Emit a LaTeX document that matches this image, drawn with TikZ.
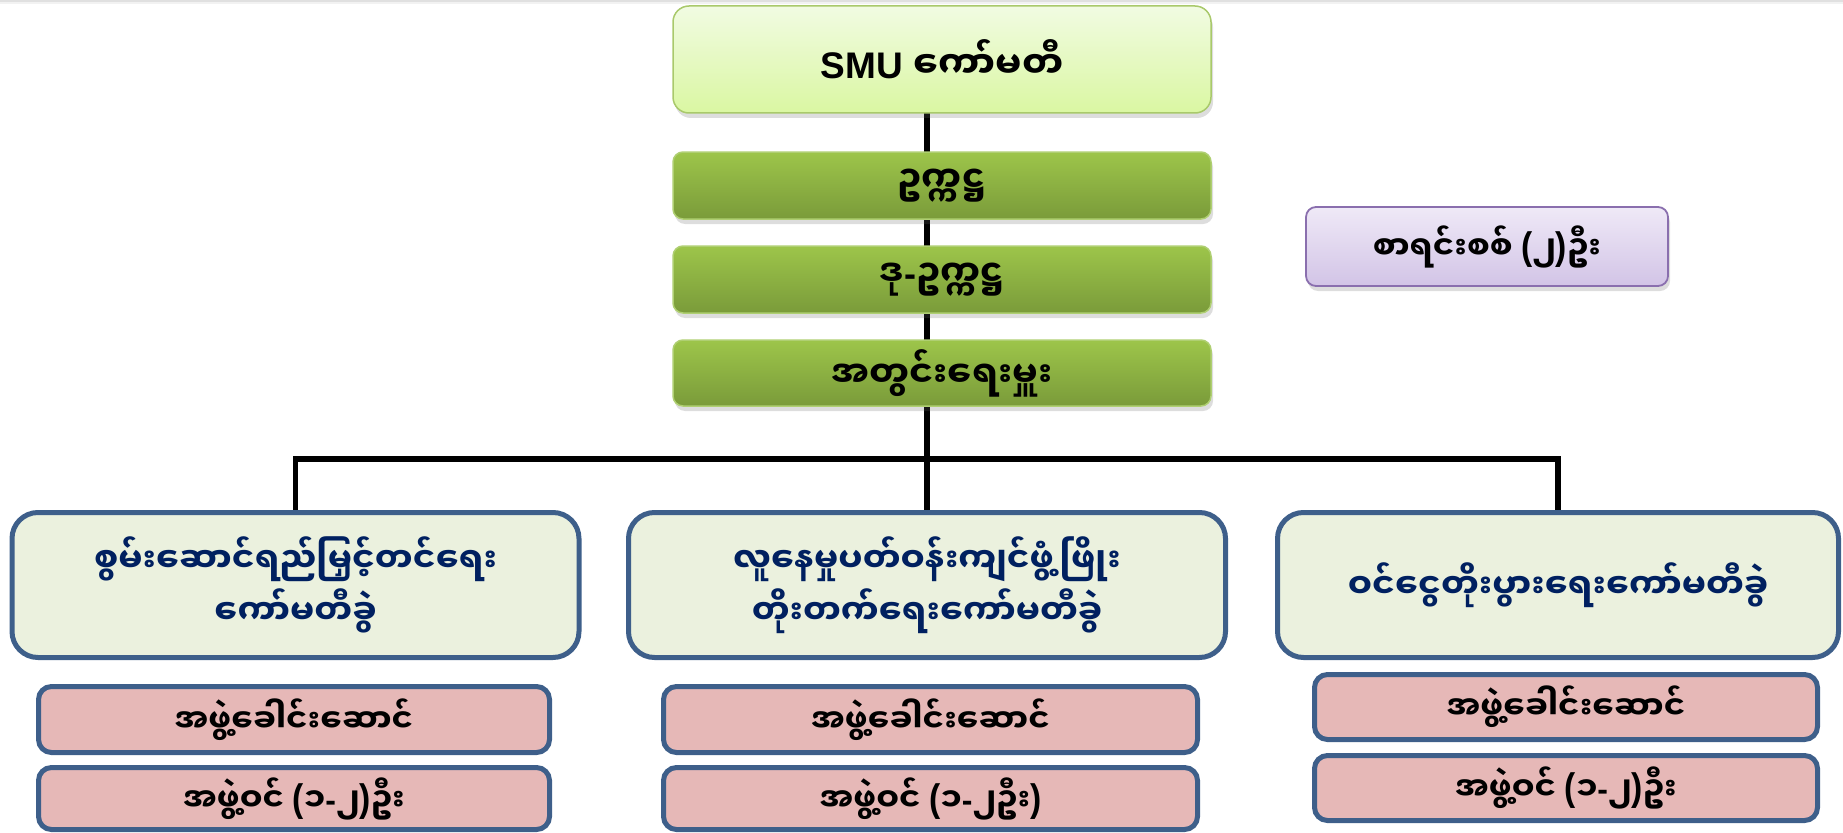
\documentclass[tikz,border=0pt]{standalone}
\usepackage{fontspec}
\setmainfont{Liberation Sans}
\newfontfamily\myan[Script=Myanmar]{Noto Sans Myanmar UI}
\newfontfamily\latn{Liberation Sans}
\newcommand\lp{{\latn\scalebox{1.05}[1.2]{(}}}
\newcommand\rp{{\latn\scalebox{1.05}[1.2]{)}}}
\newcommand\hy{{\latn-}}
\usetikzlibrary{shadows,backgrounds}
\definecolor{smutop}{HTML}{F1FBE2}
\definecolor{smubot}{HTML}{DAF7A2}
\definecolor{smuline}{HTML}{A9C96B}
\definecolor{grtop}{HTML}{9DC54A}
\definecolor{grbot}{HTML}{7A9B3A}
\definecolor{grline}{HTML}{AFCF72}
\definecolor{putop}{HTML}{EFE9F7}
\definecolor{pubot}{HTML}{D2C4E6}
\definecolor{puline}{HTML}{8A6FAE}
\definecolor{cmfill}{HTML}{EBF1DE}
\definecolor{bxline}{HTML}{3E5F8A}
\definecolor{cmtext}{HTML}{002060}
\definecolor{pkfill}{HTML}{E6B8B7}
\tikzset{
  base/.style={inner sep=0pt, outer sep=0pt, align=center, font=\myan\bfseries},
  shad/.style={drop shadow={shadow xshift=2pt, shadow yshift=-5pt, opacity=0.22, fill=black!60}},
  smubox/.style={base, shad, draw=smuline, line width=1.5pt, rounded corners=16pt,
    top color=smutop, bottom color=smubot, minimum width=538pt, minimum height=107pt, font=\bfseries\fontsize{37}{40}\selectfont},
  grbox/.style={base, shad, draw=grline, line width=1.5pt, rounded corners=10pt,
    top color=grtop, bottom color=grbot, minimum width=538pt, font=\myan\bfseries\fontsize{36}{40}\selectfont},
  pubox/.style={base, shad, draw=puline, line width=1.8pt, rounded corners=10pt,
    top color=putop, bottom color=pubot, minimum width=362pt, minimum height=79pt, font=\myan\bfseries\fontsize{32}{38}\selectfont},
  cmbox/.style={base, draw=bxline, line width=5pt, rounded corners=26pt, fill=cmfill,
    minimum height=145pt, text=cmtext, font=\myan\bfseries\fontsize{34}{52}\selectfont},
  pkbox/.style={base, draw=bxline, line width=5pt, rounded corners=13pt, fill=pkfill,
    font=\myan\bfseries\fontsize{32}{38}\selectfont},
  conn/.style={line width=5.5pt, black}
}
\begin{document}
\begin{tikzpicture}[x=1pt,y=-1pt]
\useasboundingbox (0,0) rectangle (1843,832);
\fill[black!12] (0,0) rectangle (1843,2);
\fill[black!5] (0,2) rectangle (1843,4);
% top chain
\node[smubox] (smu) at (942,59.5) {SMU {\myan ကော်မတီ}};
\node[grbox, minimum height=67pt] (chair) at (942,185.5) {ဥက္ကဋ္ဌ};
\node[grbox, minimum height=67pt] (vice) at (942,279.5) {ဒု\hy ဥက္ကဋ္ဌ};
\node[grbox, minimum height=66pt] (sec) at (942,373) {အတွင်းရေးမှူး};
\node[pubox] (aud) at (1487,246.5) {စာရင်းစစ် \lp ၂\rp ဦး};
% committees
\node[cmbox, minimum width=567pt] (c1) at (295.5,585) {စွမ်းဆောင်ရည်မြှင့်တင်ရေး\\ကော်မတီခွဲ};
\node[cmbox, minimum width=597pt] (c2) at (927,585) {လူနေမှုပတ်ဝန်းကျင်ဖွံ့ဖြိုး\\တိုးတက်ရေးကော်မတီခွဲ};
\node[cmbox, minimum width=561pt] (c3) at (1558,585) {ဝင်ငွေတိုးပွားရေးကော်မတီခွဲ};
% members
\node[pkbox, minimum width=511pt, minimum height=66pt] (p1a) at (294,719.5) {အဖွဲ့ခေါင်းဆောင်};
\node[pkbox, minimum width=511pt, minimum height=62pt] (p1b) at (294,798.5) {အဖွဲ့ဝင် \lp ၁\hy ၂\rp ဦး};
\node[pkbox, minimum width=534pt, minimum height=66pt] (p2a) at (930.5,719.5) {အဖွဲ့ခေါင်းဆောင်};
\node[pkbox, minimum width=534pt, minimum height=62pt] (p2b) at (930.5,798.5) {အဖွဲ့ဝင် \lp ၁\hy ၂ဦး\rp};
\node[pkbox, minimum width=503pt, minimum height=65pt] (p3a) at (1566,707) {အဖွဲ့ခေါင်းဆောင်};
\node[pkbox, minimum width=503pt, minimum height=65pt] (p3b) at (1566,788) {အဖွဲ့ဝင် \lp ၁\hy ၂\rp ဦး};
% connectors
\coordinate (j) at (927,459);
\begin{scope}[on background layer]
\draw[conn] (smu.south -| j) -- (j);
\draw[conn] (j) -- (c2.north);
\draw[conn] (c1.north) |- (j) -| (c3.north);
\end{scope}
\end{tikzpicture}
\end{document}
